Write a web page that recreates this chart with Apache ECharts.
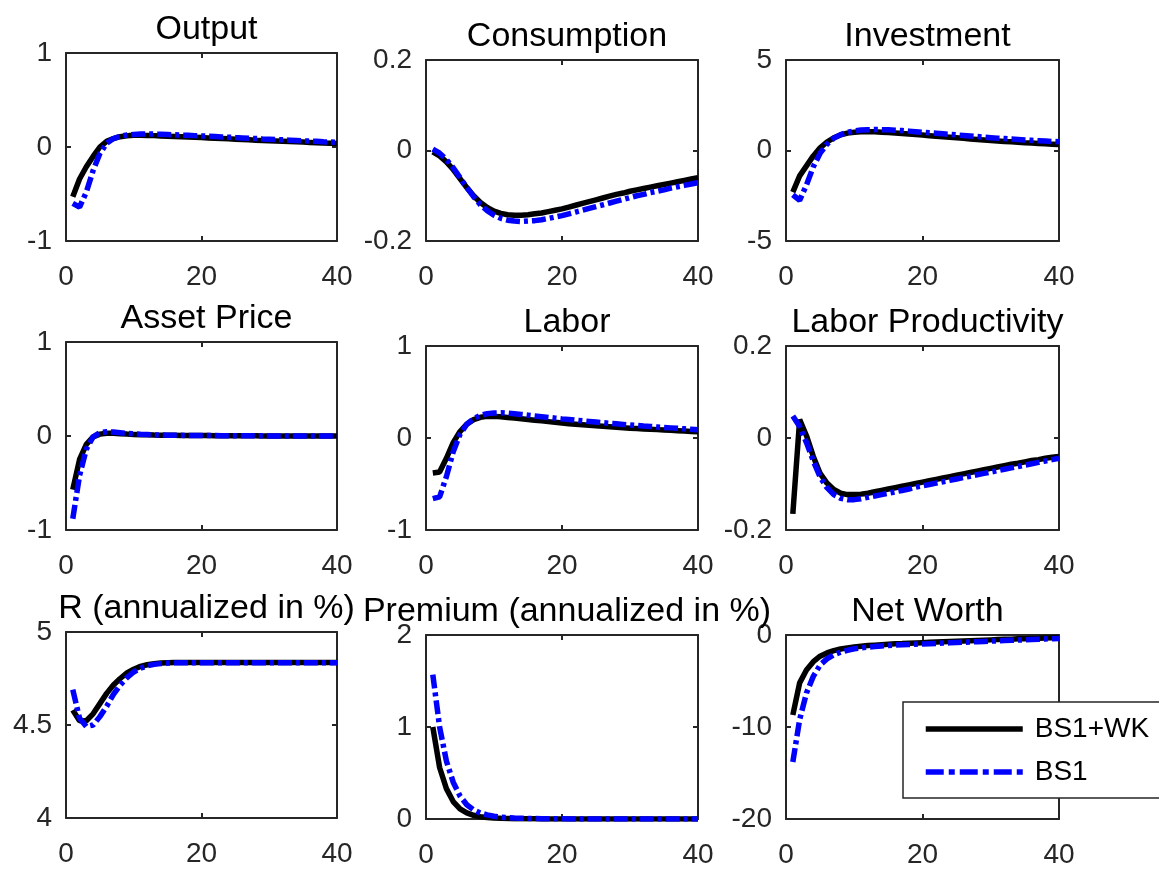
<!DOCTYPE html>
<html>
<head>
<meta charset="utf-8">
<script src="https://cdn.jsdelivr.net/npm/echarts@6/dist/echarts.min.js"></script>
<style>
html,body{margin:0;padding:0;background:#fff;}
#chart{width:1159px;height:871px;}
</style>
</head>
<body>
<div id="chart"></div>
<script>
// ---------------- DATA ----------------
const periods = [1,2,3,4,5,6,7,8,9,10,11,12,13,14,15,16,17,18,19,20,21,22,23,24,25,26,27,28,29,30,31,32,33,34,35,36,37,38,39,40];
const seriesNames = ['BS1+WK', 'BS1'];
const panelTitles = ['Output','Consumption','Investment','Asset Price','Labor','Labor Productivity','R (annualized in %)','Premium (annualized in %)','Net Worth'];
const xTicks = [0, 20, 40];
// y axis [min, max, interval]
const yRanges = [[-1,1,1],[-0.2,0.2,0.2],[-5,5,5],[-1,1,1],[-1,1,1],[-0.2,0.2,0.2],[4,5,0.5],[0,2,1],[-20,0,10]];

const outputWK = [-0.53,-0.34,-0.21,-0.1,0.0,0.06,0.09,0.11,0.12,0.125,0.125,0.123,0.121,0.118,0.115,0.112,0.109,0.106,0.103,0.1,0.097,0.093,0.09,0.087,0.083,0.08,0.077,0.073,0.07,0.067,0.064,0.061,0.058,0.055,0.052,0.049,0.046,0.043,0.04,0.037];
const outputBS = [-0.60,-0.64,-0.48,-0.25,-0.07,0.04,0.09,0.115,0.128,0.134,0.137,0.138,0.137,0.135,0.133,0.13,0.127,0.124,0.121,0.118,0.114,0.111,0.107,0.104,0.1,0.097,0.093,0.09,0.086,0.083,0.08,0.076,0.073,0.07,0.066,0.063,0.06,0.056,0.053,0.05];

const consWK = [-0.003,-0.012,-0.025,-0.042,-0.062,-0.082,-0.1,-0.115,-0.126,-0.134,-0.139,-0.142,-0.143,-0.143,-0.142,-0.14,-0.138,-0.135,-0.132,-0.129,-0.125,-0.121,-0.117,-0.113,-0.109,-0.105,-0.101,-0.097,-0.094,-0.09,-0.087,-0.084,-0.081,-0.078,-0.075,-0.072,-0.069,-0.066,-0.063,-0.06];
const consBS = [0.003,-0.006,-0.02,-0.038,-0.06,-0.082,-0.102,-0.12,-0.133,-0.143,-0.15,-0.154,-0.156,-0.157,-0.156,-0.155,-0.153,-0.15,-0.147,-0.144,-0.14,-0.136,-0.132,-0.128,-0.124,-0.12,-0.116,-0.112,-0.108,-0.104,-0.1,-0.097,-0.093,-0.09,-0.087,-0.083,-0.08,-0.077,-0.074,-0.071];

const invWK = [-2.3,-1.4,-0.85,-0.3,0.15,0.47,0.7,0.86,0.96,1.01,1.03,1.04,1.03,1.01,0.99,0.97,0.94,0.91,0.88,0.85,0.82,0.79,0.76,0.73,0.7,0.67,0.64,0.61,0.58,0.55,0.53,0.5,0.48,0.46,0.43,0.41,0.39,0.37,0.35,0.33];
const invBS = [-2.45,-2.75,-1.9,-0.9,-0.15,0.35,0.68,0.88,1.0,1.08,1.13,1.15,1.16,1.15,1.14,1.12,1.1,1.07,1.04,1.01,0.98,0.95,0.92,0.89,0.86,0.83,0.8,0.77,0.74,0.71,0.68,0.66,0.63,0.61,0.58,0.56,0.54,0.52,0.5,0.48];

const assetWK = [-0.57,-0.25,-0.09,-0.01,0.02,0.03,0.028,0.024,0.02,0.017,0.014,0.012,0.01,0.009,0.008,0.007,0.006,0.005,0.005,0.004,0.004,0.003,0.003,0.003,0.002,0.002,0.002,0.002,0.001,0.001,0.001,0.001,0.001,0.001,0.001,0,0,0,0,0];
const assetBS = [-0.88,-0.42,-0.14,-0.01,0.035,0.045,0.042,0.035,0.028,0.022,0.018,0.015,0.012,0.01,0.009,0.008,0.007,0.006,0.005,0.005,0.004,0.004,0.003,0.003,0.003,0.002,0.002,0.002,0.002,0.001,0.001,0.001,0.001,0.001,0.001,0.001,0,0,0,0];

const laborWK = [-0.38,-0.37,-0.22,-0.05,0.07,0.15,0.2,0.225,0.235,0.235,0.23,0.224,0.217,0.21,0.202,0.194,0.186,0.178,0.17,0.163,0.156,0.15,0.144,0.138,0.132,0.127,0.122,0.117,0.112,0.107,0.103,0.099,0.095,0.091,0.087,0.083,0.079,0.075,0.071,0.067];
const laborBS = [-0.66,-0.64,-0.42,-0.15,0.04,0.15,0.21,0.245,0.265,0.272,0.274,0.27,0.263,0.256,0.248,0.24,0.232,0.224,0.216,0.208,0.201,0.194,0.187,0.18,0.173,0.166,0.16,0.154,0.148,0.142,0.136,0.13,0.125,0.12,0.115,0.11,0.105,0.1,0.095,0.09];

const prodWK = [-0.165,0.04,0.005,-0.04,-0.077,-0.098,-0.112,-0.12,-0.123,-0.123,-0.122,-0.12,-0.117,-0.114,-0.111,-0.108,-0.105,-0.102,-0.099,-0.096,-0.093,-0.09,-0.087,-0.084,-0.081,-0.078,-0.075,-0.072,-0.069,-0.066,-0.063,-0.06,-0.057,-0.055,-0.052,-0.049,-0.047,-0.044,-0.042,-0.04];
const prodBS = [0.048,0.025,-0.01,-0.05,-0.085,-0.108,-0.123,-0.131,-0.134,-0.134,-0.132,-0.129,-0.126,-0.123,-0.12,-0.117,-0.114,-0.111,-0.107,-0.104,-0.101,-0.098,-0.095,-0.092,-0.089,-0.086,-0.083,-0.08,-0.077,-0.074,-0.071,-0.068,-0.065,-0.062,-0.059,-0.056,-0.053,-0.05,-0.047,-0.044];

const rateWK = [4.58,4.523,4.523,4.56,4.615,4.67,4.715,4.75,4.78,4.8,4.815,4.824,4.83,4.833,4.835,4.836,4.836,4.836,4.836,4.836,4.836,4.836,4.836,4.836,4.836,4.836,4.836,4.836,4.836,4.836,4.836,4.836,4.836,4.836,4.836,4.836,4.836,4.836,4.836,4.836];
const rateBS = [4.69,4.536,4.492,4.5,4.545,4.6,4.665,4.715,4.755,4.785,4.805,4.818,4.826,4.83,4.833,4.834,4.835,4.835,4.835,4.835,4.835,4.835,4.835,4.835,4.835,4.835,4.835,4.835,4.835,4.835,4.835,4.835,4.835,4.835,4.835,4.835,4.835,4.835,4.835,4.835];

const premWK = [1.0,0.56,0.33,0.19,0.11,0.066,0.04,0.025,0.016,0.011,0.008,0.006,0.004,0.003,0.002,0.002,0.001,0.001,0.001,0.001,0,0,0,0,0,0,0,0,0,0,0,0,0,0,0,0,0,0,0,0];
const premBS = [1.57,1.0,0.63,0.4,0.25,0.155,0.1,0.065,0.045,0.03,0.02,0.015,0.011,0.008,0.006,0.005,0.004,0.003,0.002,0.002,0.001,0.001,0.001,0.001,0,0,0,0,0,0,0,0,0,0,0,0,0,0,0,0];

const worthWK = [-8.7,-5.2,-3.8,-2.9,-2.3,-1.95,-1.7,-1.52,-1.4,-1.3,-1.22,-1.15,-1.1,-1.05,-1.0,-0.96,-0.93,-0.89,-0.86,-0.83,-0.8,-0.77,-0.74,-0.71,-0.68,-0.65,-0.62,-0.59,-0.56,-0.53,-0.5,-0.47,-0.45,-0.42,-0.4,-0.37,-0.35,-0.32,-0.3,-0.27];
const worthBS = [-13.8,-9.2,-6.3,-4.5,-3.26,-2.6,-2.15,-1.87,-1.66,-1.5,-1.4,-1.32,-1.25,-1.19,-1.14,-1.1,-1.06,-1.03,-1.0,-0.97,-0.94,-0.91,-0.88,-0.85,-0.82,-0.79,-0.76,-0.73,-0.7,-0.67,-0.64,-0.61,-0.58,-0.55,-0.52,-0.49,-0.46,-0.43,-0.4,-0.37];

const panelData = [
  [outputWK, outputBS], [consWK, consBS], [invWK, invBS],
  [assetWK, assetBS], [laborWK, laborBS], [prodWK, prodBS],
  [rateWK, rateBS], [premWK, premBS], [worthWK, worthBS]
];

// ---------------- LAYOUT ----------------
const boxes = [
  {l:66, t:53, w:271, h:188}, {l:426, t:60, w:272, h:181}, {l:786, t:60, w:273, h:181},
  {l:66, t:342, w:271, h:188}, {l:426, t:346, w:272, h:184}, {l:786, t:346, w:273, h:184},
  {l:66, t:632, w:271, h:186}, {l:426, t:635, w:272, h:184}, {l:786, t:635, w:273, h:184}
];
const FONT = 'Liberation Sans, Arial, Helvetica, sans-serif';
const AX = '#262626';
const TICK_FS = 28, TITLE_FS = 34;
const lineStyles = [
  {color:'#000000', width:5.5, type:'solid'},
  {color:'#0000ff', width:5.5, type:[14,4,4,4]}
];

const grid = [], xAxis = [], yAxis = [], series = [], title = [];
function fmt(v){ return String(Math.round(v*1000)/1000); }

boxes.forEach((b, i) => {
  grid.push({left:b.l, top:b.t, width:b.w, height:b.h, containLabel:false, show:false});
  const axisLine = {show:true, onZero:false, lineStyle:{color:AX, width:2}};
  const axisTick = {show:true, inside:true, length:5, lineStyle:{color:AX, width:2}};
  xAxis.push({type:'value', gridIndex:i, position:'bottom', min:xTicks[0], max:xTicks[xTicks.length-1], interval:xTicks[1]-xTicks[0],
    axisLine, axisTick, splitLine:{show:false},
    axisLabel:{show:true, color:AX, fontSize:TICK_FS, fontFamily:FONT, margin:22, formatter:fmt, showMinLabel:true, showMaxLabel:true}});
  xAxis.push({type:'value', gridIndex:i, position:'top', min:xTicks[0], max:xTicks[xTicks.length-1], interval:xTicks[1]-xTicks[0],
    axisLine, axisTick, splitLine:{show:false}, axisLabel:{show:false}});
  const [ymin, ymax, yint] = yRanges[i];
  yAxis.push({type:'value', gridIndex:i, position:'left', min:ymin, max:ymax, interval:yint,
    axisLine, axisTick, splitLine:{show:false},
    axisLabel:{show:true, color:AX, fontSize:TICK_FS, fontFamily:FONT, margin:14, formatter:fmt, showMinLabel:true, showMaxLabel:true}});
  yAxis.push({type:'value', gridIndex:i, position:'right', min:ymin, max:ymax, interval:yint,
    axisLine, axisTick, splitLine:{show:false}, axisLabel:{show:false}});
  title.push({text:panelTitles[i], left:b.l + b.w/2, top:b.t - 45, textAlign:'center',
    textStyle:{color:'#000', fontSize:TITLE_FS, fontWeight:'normal', fontFamily:FONT}});
  panelData[i].forEach((arr, k) => {
    series.push({
      name: seriesNames[k], type:'line', xAxisIndex:2*i, yAxisIndex:2*i,
      data: periods.map((p, j) => [p, arr[j]]),
      showSymbol:false, symbol:'none', smooth:false, clip:true,
      lineStyle: lineStyles[k], z: 2 + k
    });
  });
});

const option = {
  animation:false,
  backgroundColor:'#ffffff',
  title, grid, xAxis, yAxis, series,
  legend: {
    orient:'vertical', left:903, top:702,
    backgroundColor:'#ffffff', borderColor:AX, borderWidth:1.5,
    padding:[13, 14, 12, 20], itemGap:15, itemWidth:97, itemHeight:28,
    textStyle:{color:'#000', fontSize:TICK_FS, fontFamily:FONT, padding:[0,0,0,7]},
    itemStyle:{opacity:0},
    data: [
      {name:seriesNames[0], lineStyle:{width:5.5, color:'#000000', type:'solid'}},
      {name:seriesNames[1], lineStyle:{width:5.5, color:'#0000ff', type:[18,5,6,5]}}
    ],
    z: 10
  }
};
const chart = echarts.init(document.getElementById('chart'), null, {renderer:'canvas'});
chart.setOption(option);
</script>
</body>
</html>
